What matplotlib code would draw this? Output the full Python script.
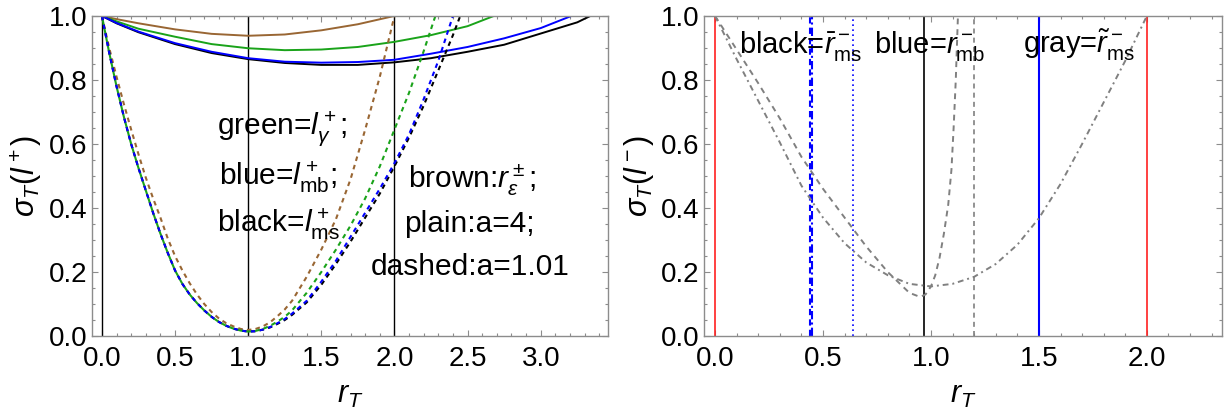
import matplotlib.pyplot as plt
from matplotlib.ticker import MultipleLocator

plt.rcParams["font.family"] = ["Liberation Sans", "DejaVu Sans"]
plt.rcParams["mathtext.fontset"] = "custom"
plt.rcParams["mathtext.rm"] = "Liberation Sans"
plt.rcParams["mathtext.it"] = "Liberation Sans:italic"
plt.rcParams["mathtext.bf"] = "Liberation Sans:bold"

BROWN = "#996633"
GREEN = "#1aa31a"
FRAME = "#8c8c8c"

# ---- left panel: plain curves (a=4) ----
R_BROWN = [0.0, 0.1, 0.25, 0.5, 0.75, 1.0, 1.25, 1.5, 1.75, 2.0]
S_BROWN = [1.0, 0.99, 0.977, 0.958, 0.944, 0.938, 0.942, 0.955, 0.974, 1.0]
R_GREEN = [0.0, 0.1, 0.25, 0.5, 0.75, 1.0, 1.25, 1.5, 1.75, 2.0, 2.25, 2.5, 2.68]
S_GREEN = [1.0, 0.983, 0.96, 0.935, 0.912, 0.899, 0.893, 0.895, 0.903, 0.919, 0.94, 0.968, 1.0]
R_BLUE = [0.0, 0.1, 0.25, 0.5, 0.75, 1.0, 1.25, 1.5, 1.75, 2.0, 2.25, 2.5, 2.75, 3.0, 3.21]
S_BLUE = [1.0, 0.978, 0.951, 0.915, 0.888, 0.868, 0.857, 0.854, 0.856, 0.863, 0.882, 0.903, 0.93, 0.962, 1.0]
R_BLACK = [0.0, 0.1, 0.25, 0.5, 0.75, 1.0, 1.25, 1.5, 1.75, 2.0, 2.25, 2.5, 2.75, 3.0, 3.25, 3.34]
S_BLACK = [1.0, 0.977, 0.949, 0.912, 0.884, 0.865, 0.853, 0.847, 0.847, 0.855, 0.868, 0.888, 0.91, 0.945, 0.98, 1.0]

# ---- left panel: dashed curves (a=1.01) ----
RD_BROWN = [0.0, 0.05, 0.1, 0.15, 0.2, 0.25, 0.3, 0.35, 0.4, 0.45, 0.5, 0.55, 0.6, 0.65, 0.7, 0.75,
            0.8, 0.85, 0.9, 0.95, 1.0, 1.05, 1.1, 1.15, 1.2, 1.25, 1.3, 1.4, 1.5, 1.6, 1.7, 1.8, 1.9, 2.0]
SD_BROWN = [1.0, 0.9, 0.81, 0.725, 0.645, 0.568, 0.495, 0.43, 0.37, 0.305, 0.25, 0.205, 0.165, 0.13, 0.1, 0.075,
            0.055, 0.04, 0.03, 0.022, 0.019, 0.022, 0.03, 0.043, 0.062, 0.083, 0.11, 0.185, 0.27, 0.365, 0.49, 0.645, 0.81, 1.0]

# the three dashed l+ curves coincide on the falling side
RD_FALL = [0.0, 0.05, 0.1, 0.15, 0.2, 0.25, 0.3, 0.35, 0.4, 0.45, 0.5, 0.55, 0.6, 0.65, 0.7, 0.75,
           0.8, 0.85, 0.9, 0.95, 1.0]
SD_FALL = [1.0, 0.885, 0.78, 0.685, 0.6, 0.525, 0.455, 0.385, 0.32, 0.26, 0.205, 0.163, 0.13, 0.103, 0.08, 0.06,
           0.044, 0.032, 0.023, 0.017, 0.014]

RD_GREEN = [1.05, 1.1, 1.15, 1.2, 1.25, 1.3, 1.4, 1.5, 1.6, 1.7, 1.8, 1.9, 2.0, 2.1, 2.2, 2.28]
SD_GREEN = [0.016, 0.022, 0.032, 0.045, 0.06, 0.08, 0.135, 0.2, 0.27, 0.345, 0.43, 0.53, 0.645, 0.76, 0.89, 1.0]
RD_BLUE = [1.05, 1.1, 1.15, 1.2, 1.25, 1.3, 1.4, 1.5, 1.6, 1.7, 1.8, 1.9, 2.0, 2.1, 2.2, 2.3, 2.4]
SD_BLUE = [0.015, 0.02, 0.028, 0.04, 0.053, 0.07, 0.11, 0.17, 0.235, 0.31, 0.385, 0.46, 0.54, 0.63, 0.74, 0.86, 1.0]
RD_BLACK = [1.05, 1.1, 1.15, 1.2, 1.25, 1.3, 1.4, 1.5, 1.6, 1.7, 1.8, 1.9, 2.0, 2.1, 2.2, 2.3, 2.4, 2.45]
SD_BLACK = [0.015, 0.02, 0.027, 0.038, 0.05, 0.066, 0.105, 0.16, 0.225, 0.295, 0.37, 0.445, 0.53, 0.62, 0.72, 0.83, 0.94, 1.0]

LEFT_VLINES = [0.0, 1.0, 2.0]

# ---- right panel ----
R_GRAY_DASH = [0.0, 0.1, 0.2, 0.3, 0.4, 0.5, 0.6, 0.7, 0.8, 0.9, 0.95, 0.975, 1.0, 1.02, 1.04, 1.06, 1.08, 1.095, 1.105, 1.115, 1.125]
S_GRAY_DASH = [1.0, 0.895, 0.79, 0.68, 0.56, 0.46, 0.37, 0.28, 0.2, 0.135, 0.122, 0.13, 0.155, 0.19, 0.245, 0.32, 0.41, 0.52, 0.65, 0.8, 1.0]
R_GRAY_DD = [0.0, 0.1, 0.2, 0.3, 0.4, 0.5, 0.6, 0.7, 0.8, 0.9, 1.0, 1.1, 1.2, 1.3, 1.4, 1.5, 1.6, 1.7, 1.8, 1.9, 2.0]
S_GRAY_DD = [1.0, 0.865, 0.735, 0.605, 0.47, 0.37, 0.29, 0.23, 0.19, 0.163, 0.155, 0.163, 0.185, 0.225, 0.285, 0.368, 0.475, 0.6, 0.73, 0.86, 1.0]

RED_LINES = [0.0, 2.0]
BLUE_SOLID = 1.5
BLACK_LINE = 0.97
BLUE_DASHED = 0.44
BLUE_DOTDASH = 0.447
BLUE_DOTTED = 0.64
GRAY_VLINE = 1.2


def style_axes(ax, xlim):
    ax.set_xlim(*xlim)
    ax.set_ylim(0, 1)
    ax.xaxis.set_major_locator(MultipleLocator(0.5))
    ax.xaxis.set_minor_locator(MultipleLocator(0.1))
    ax.yaxis.set_major_locator(MultipleLocator(0.2))
    ax.yaxis.set_minor_locator(MultipleLocator(0.05))
    ax.xaxis.set_major_formatter(lambda v, p: f"{v:.1f}")
    ax.yaxis.set_major_formatter(lambda v, p: f"{v:.1f}")
    ax.tick_params(which="both", direction="in", top=True, right=True,
                   color=FRAME, labelsize=20, width=0.8)
    ax.tick_params(which="major", length=4.5)
    ax.tick_params(which="minor", length=2.5)
    ax.tick_params(axis="x", pad=7)
    ax.tick_params(axis="y", pad=3)
    for sp in ax.spines.values():
        sp.set_color(FRAME)
        sp.set_linewidth(1.0)
    ax.set_xlabel("$r_T$", fontsize=22, labelpad=6)


def main():
    fig = plt.figure(figsize=(12.31, 4.19), dpi=100)
    ax1 = fig.add_axes([0.0747, 0.198, 0.4192, 0.764])
    ax2 = fig.add_axes([0.5719, 0.198, 0.4208, 0.764])

    # left panel
    for x in LEFT_VLINES:
        ax1.axvline(x, color="black", lw=1.0)
    ax1.plot(R_BROWN, S_BROWN, color=BROWN, lw=1.4)
    ax1.plot(R_GREEN, S_GREEN, color=GREEN, lw=1.4)
    ax1.plot(R_BLACK, S_BLACK, color="black", lw=1.4)
    ax1.plot(R_BLUE, S_BLUE, color="blue", lw=1.4)
    dash = (0, (2.2, 2.0))
    ax1.plot(RD_BROWN, SD_BROWN, color=BROWN, lw=1.5, ls=dash)
    ax1.plot(RD_FALL + RD_BLACK, SD_FALL + SD_BLACK, color="black", lw=1.5, ls=dash)
    ax1.plot(RD_FALL + RD_BLUE, SD_FALL + SD_BLUE, color="blue", lw=1.5, ls=dash)
    ax1.plot(RD_FALL + RD_GREEN, SD_FALL + SD_GREEN, color=GREEN, lw=1.5, ls=(2.1, (2.2, 2.0)))

    fs = 21.5
    ax1.text(0.784, 0.628, r"green=$l^+_\gamma$;", fontsize=fs)
    ax1.text(0.80, 0.472, r"blue=$l^+_{\rm mb}$;", fontsize=fs)
    ax1.text(0.789, 0.326, r"black=$l^+_{\rm ms}$", fontsize=fs)
    ax1.text(2.095, 0.4615, r"brown:$r^\pm_\epsilon$;", fontsize=fs)
    ax1.text(2.068, 0.326, "plain:a=4;", fontsize=fs)
    ax1.text(1.838, 0.19, "dashed:a=1.01", fontsize=fs)

    style_axes(ax1, (-0.068, 3.46))
    ax1.set_ylabel(r"$\sigma_T(l^+)$", fontsize=22, labelpad=4)

    # right panel
    for x in RED_LINES:
        ax2.axvline(x, color="#ff2020", lw=1.2)
    ax2.axvline(BLUE_SOLID, color="blue", lw=1.5)
    ax2.axvline(BLACK_LINE, color="black", lw=1.2)
    ax2.axvline(BLUE_DASHED, color="blue", lw=1.5, ls=(0, (3, 2)))
    ax2.axvline(BLUE_DOTDASH, color="blue", lw=1.5, ls=(0, (4, 1.5, 1, 1.5)))
    ax2.axvline(BLUE_DOTTED, color="blue", lw=1.2, ls=(0, (1, 2)))
    ax2.axvline(GRAY_VLINE, color="gray", lw=1.2, ls=(0, (3, 2.5)))
    ax2.plot(R_GRAY_DASH, S_GRAY_DASH, color="gray", lw=1.4, ls=(0, (3, 2.5)))
    ax2.plot(R_GRAY_DD, S_GRAY_DD, color="gray", lw=1.4, ls=(0, (3, 2, 1, 2)))

    fs2 = 21
    ax2.text(0.111, 0.885, r"black=$\bar{r}^-_{\rm ms}$", fontsize=fs2)
    ax2.text(0.738, 0.885, r"blue=$r^-_{\rm mb}$", fontsize=fs2)
    ax2.text(1.426, 0.885, r"gray=$\tilde{r}^-_{\rm ms}$", fontsize=fs2)

    style_axes(ax2, (-0.051, 2.348))
    ax2.set_ylabel(r"$\sigma_T(l^-)$", fontsize=22, labelpad=4)

    fig.savefig("out.png", dpi=100)


if __name__ == "__main__":
    main()
